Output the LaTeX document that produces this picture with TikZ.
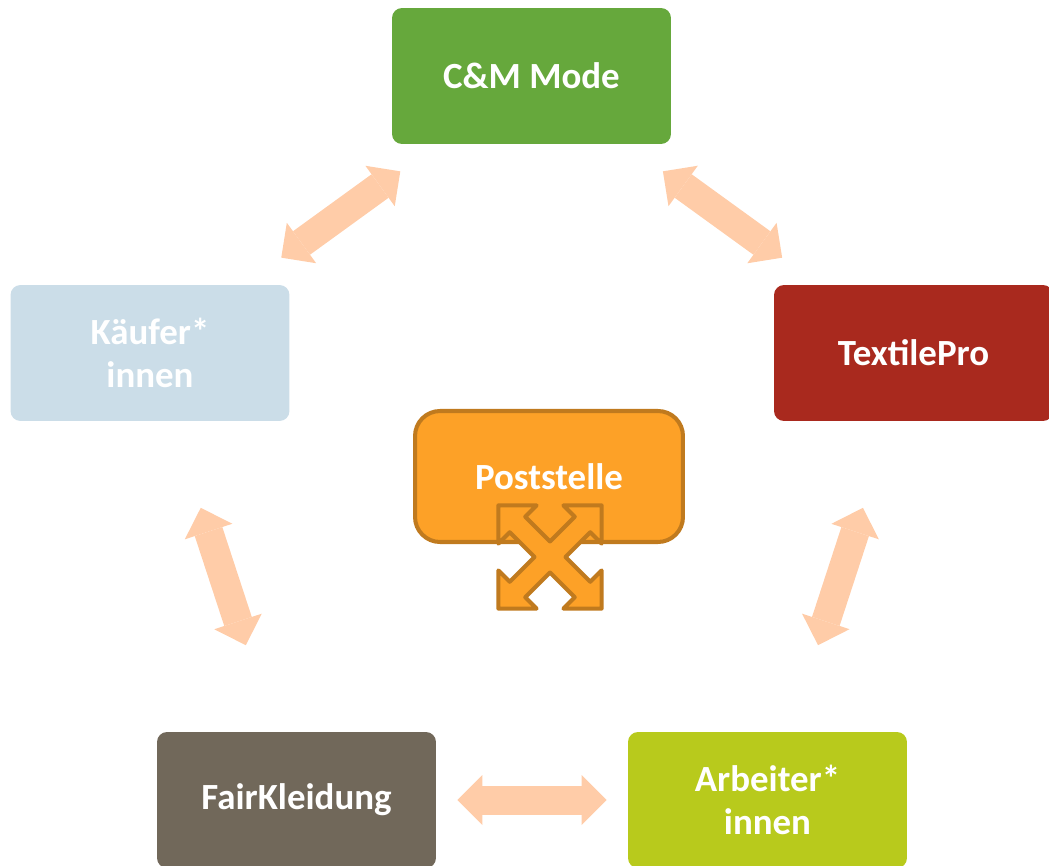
\documentclass[tikz,border=0pt]{standalone}
\usepackage{fontspec}
\setmainfont{Carlito}
\usetikzlibrary{arrows.meta}
\definecolor{cmgreen}{HTML}{66A83C}
\definecolor{kaeuferblue}{HTML}{CBDDE8}
\definecolor{textilered}{HTML}{A9291E}
\definecolor{fairgrey}{HTML}{71685A}
\definecolor{arbeitergreen}{HTML}{B8CA1C}
\definecolor{postorange}{HTML}{FDA127}
\definecolor{postbrown}{HTML}{C07A1E}
\definecolor{peach}{HTML}{FFCCA8}
\tikzset{tp/.tip={Triangle[length=0.5cm,width=1cm,line width=0pt]}}

\begin{document}
\begin{tikzpicture}[x=0.02cm, y=-0.02cm]
\tikzset{
  base/.style={align=center, inner sep=0pt, text=white,
    font=\fontsize{21}{24}\selectfont\bfseries},
  pn/.style={base, fill=#1, rounded corners=0.2cm,
    minimum width=5.58cm, minimum height=2.72cm},
  dbl/.style={draw=peach, line width=0.58cm, tp-tp},
}
\useasboundingbox (0,0) rectangle (1049,866);

\node[pn=cmgreen] (cm) at (531.5,76) {C\&M Mode};
\node[pn=kaeuferblue] (kaeufer) at (150,353) {Käufer*\\innen};
\node[pn=textilered] (textile) at (913.5,353) {TextilePro};
\node[pn=fairgrey] (fair) at (296.5,800) {FairKleidung};
\node[pn=arbeitergreen] (arbeiter) at (767.5,800) {Arbeiter*\\innen};

\node[base, fill=postorange, draw=postbrown, line width=2.3pt,
  rounded corners=0.5cm, minimum width=5.36cm, minimum height=2.62cm]
  (post) at (549,476.5) {Poststelle};

% Verbindungen
\draw[dbl, shorten <=0.92cm, shorten >=0.92cm] (kaeufer) -- (cm);
\draw[dbl, shorten <=0.92cm, shorten >=0.92cm] (cm) -- (textile);
\draw[dbl, shorten <=1.82cm, shorten >=1.82cm] (kaeufer) -- (fair);
\draw[dbl, shorten <=1.82cm, shorten >=1.82cm] (textile) -- (arbeiter);
\draw[dbl, shorten <=0.42cm, shorten >=0.42cm] (fair) -- (arbeiter);

% Kreuzpfeil
\begin{scope}[shift={(550,557)}, rotate=45]
\draw[fill=postorange, draw=postbrown, line width=2.3pt, line join=round]
  (73,0) -- (46,27) -- (46,11) -- (11,11) -- (11,46) -- (27,46) -- (0,73)
  -- (-27,46) -- (-11,46) -- (-11,11) -- (-46,11) -- (-46,27) -- (-73,0)
  -- (-46,-27) -- (-46,-11) -- (-11,-11) -- (-11,-46) -- (-27,-46) -- (0,-73)
  -- (27,-46) -- (11,-46) -- (11,-11) -- (46,-11) -- (46,-27) -- cycle;
\end{scope}
\end{tikzpicture}
\end{document}
